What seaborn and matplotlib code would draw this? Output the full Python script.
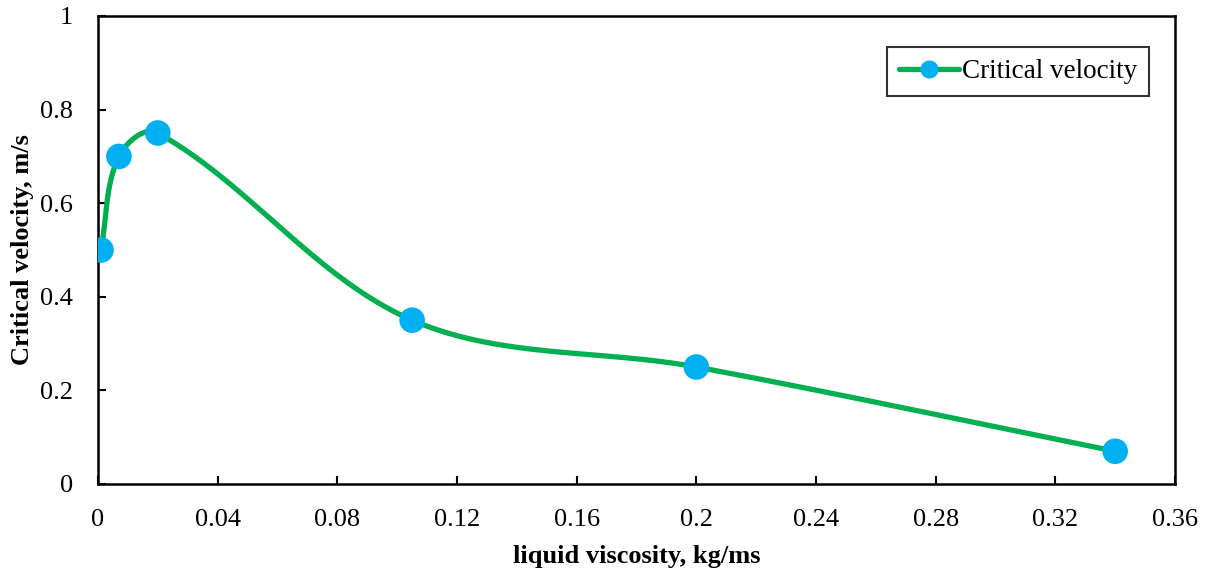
import numpy as np
import matplotlib
matplotlib.use("Agg")
import matplotlib.pyplot as plt
from matplotlib.lines import Line2D
import seaborn as sns
import pandas as pd

viscosity = [0.001, 0.007, 0.020, 0.105, 0.200, 0.340]
velocity = [0.50, 0.70, 0.75, 0.35, 0.25, 0.07]
x_ticks = [0, 0.04, 0.08, 0.12, 0.16, 0.2, 0.24, 0.28, 0.32, 0.36]
x_tick_labels = ["0", "0.04", "0.08", "0.12", "0.16", "0.2", "0.24", "0.28", "0.32", "0.36"]
y_ticks = [0, 0.2, 0.4, 0.6, 0.8, 1.0]
y_tick_labels = ["0", "0.2", "0.4", "0.6", "0.8", "1"]

GREEN = "#00B050"
BLUE = "#00B0F0"

sns.set_theme(style="white")
plt.rcParams["font.family"] = ["Liberation Serif", "DejaVu Serif"]

fig = plt.figure(figsize=(12.07, 5.71), dpi=100)
ax = fig.add_axes([98 / 1207, 1 - 484 / 571, 1077 / 1207, 468 / 571])
ax.set_xlim(0, 0.36)
ax.set_ylim(0, 1)

df = pd.DataFrame({"viscosity": viscosity, "velocity": velocity})


def smooth_curve(ax, xs, ys, n=60):
    # Chord-length scaled Bezier smoothing through the points, in display space
    trans = ax.transData
    pts = trans.transform(np.column_stack([xs, ys]))
    m = len(pts)
    tangents = np.zeros_like(pts)
    for i in range(m):
        prev_p = pts[max(i - 1, 0)]
        next_p = pts[min(i + 1, m - 1)]
        d = next_p - prev_p
        norm = np.linalg.norm(d)
        tangents[i] = d / norm if norm > 0 else 0
    out = []
    t = np.linspace(0, 1, n)[:, None]
    for i in range(m - 1):
        p1, p2 = pts[i], pts[i + 1]
        L = np.linalg.norm(p2 - p1)
        c1 = p1 + tangents[i] * L / 3.0
        c2 = p2 - tangents[i + 1] * L / 3.0
        seg = ((1 - t) ** 3) * p1 + 3 * ((1 - t) ** 2) * t * c1 + 3 * (1 - t) * t ** 2 * c2 + t ** 3 * p2
        out.append(seg if i == 0 else seg[1:])
    curve = np.vstack(out)
    return trans.inverted().transform(curve)


curve = smooth_curve(ax, df["viscosity"].values, df["velocity"].values)
ax.plot(curve[:, 0], curve[:, 1], color=GREEN, lw=3.8, solid_capstyle="round", zorder=2)
sns.scatterplot(data=df, x="viscosity", y="velocity", ax=ax, s=340, color=BLUE,
                edgecolor="none", linewidth=0, zorder=3, legend=False)

ax.set_xticks(x_ticks)
ax.set_xticklabels(x_tick_labels)
ax.set_yticks(y_ticks)
ax.set_yticklabels(y_tick_labels)
ax.tick_params(axis="both", direction="in", length=6, width=1.5, colors="black",
               labelsize=19, bottom=True, left=True, top=False, right=False)
ax.tick_params(axis="x", pad=18)
ax.tick_params(axis="y", pad=18)
for side in ["left", "bottom", "top", "right"]:
    ax.spines[side].set_visible(True)
    ax.spines[side].set_color("black")
    ax.spines[side].set_linewidth(1.8)

ax.set_xlabel("liquid viscosity, kg/ms", fontsize=19, fontweight="bold", labelpad=10,
              color="black")
ax.set_ylabel("Critical velocity, m/s", fontsize=19, fontweight="bold", labelpad=4,
              color="black")

handle = Line2D([], [], color=GREEN, lw=3.8, marker="o", markersize=12,
                markerfacecolor=BLUE, markeredgecolor=BLUE, solid_capstyle="round")
leg = ax.legend([handle], ["Critical velocity"], loc="upper right",
                bbox_to_anchor=(0.976, 0.934), fontsize=19.5, frameon=True, fancybox=False,
                handlelength=2.2, handletextpad=0.1, borderpad=0.45, borderaxespad=0)
leg.get_frame().set_edgecolor("black")
leg.get_frame().set_linewidth(1.5)
for txt in leg.get_texts():
    txt.set_color("black")

fig.savefig("out.png", dpi=100, facecolor="white")
